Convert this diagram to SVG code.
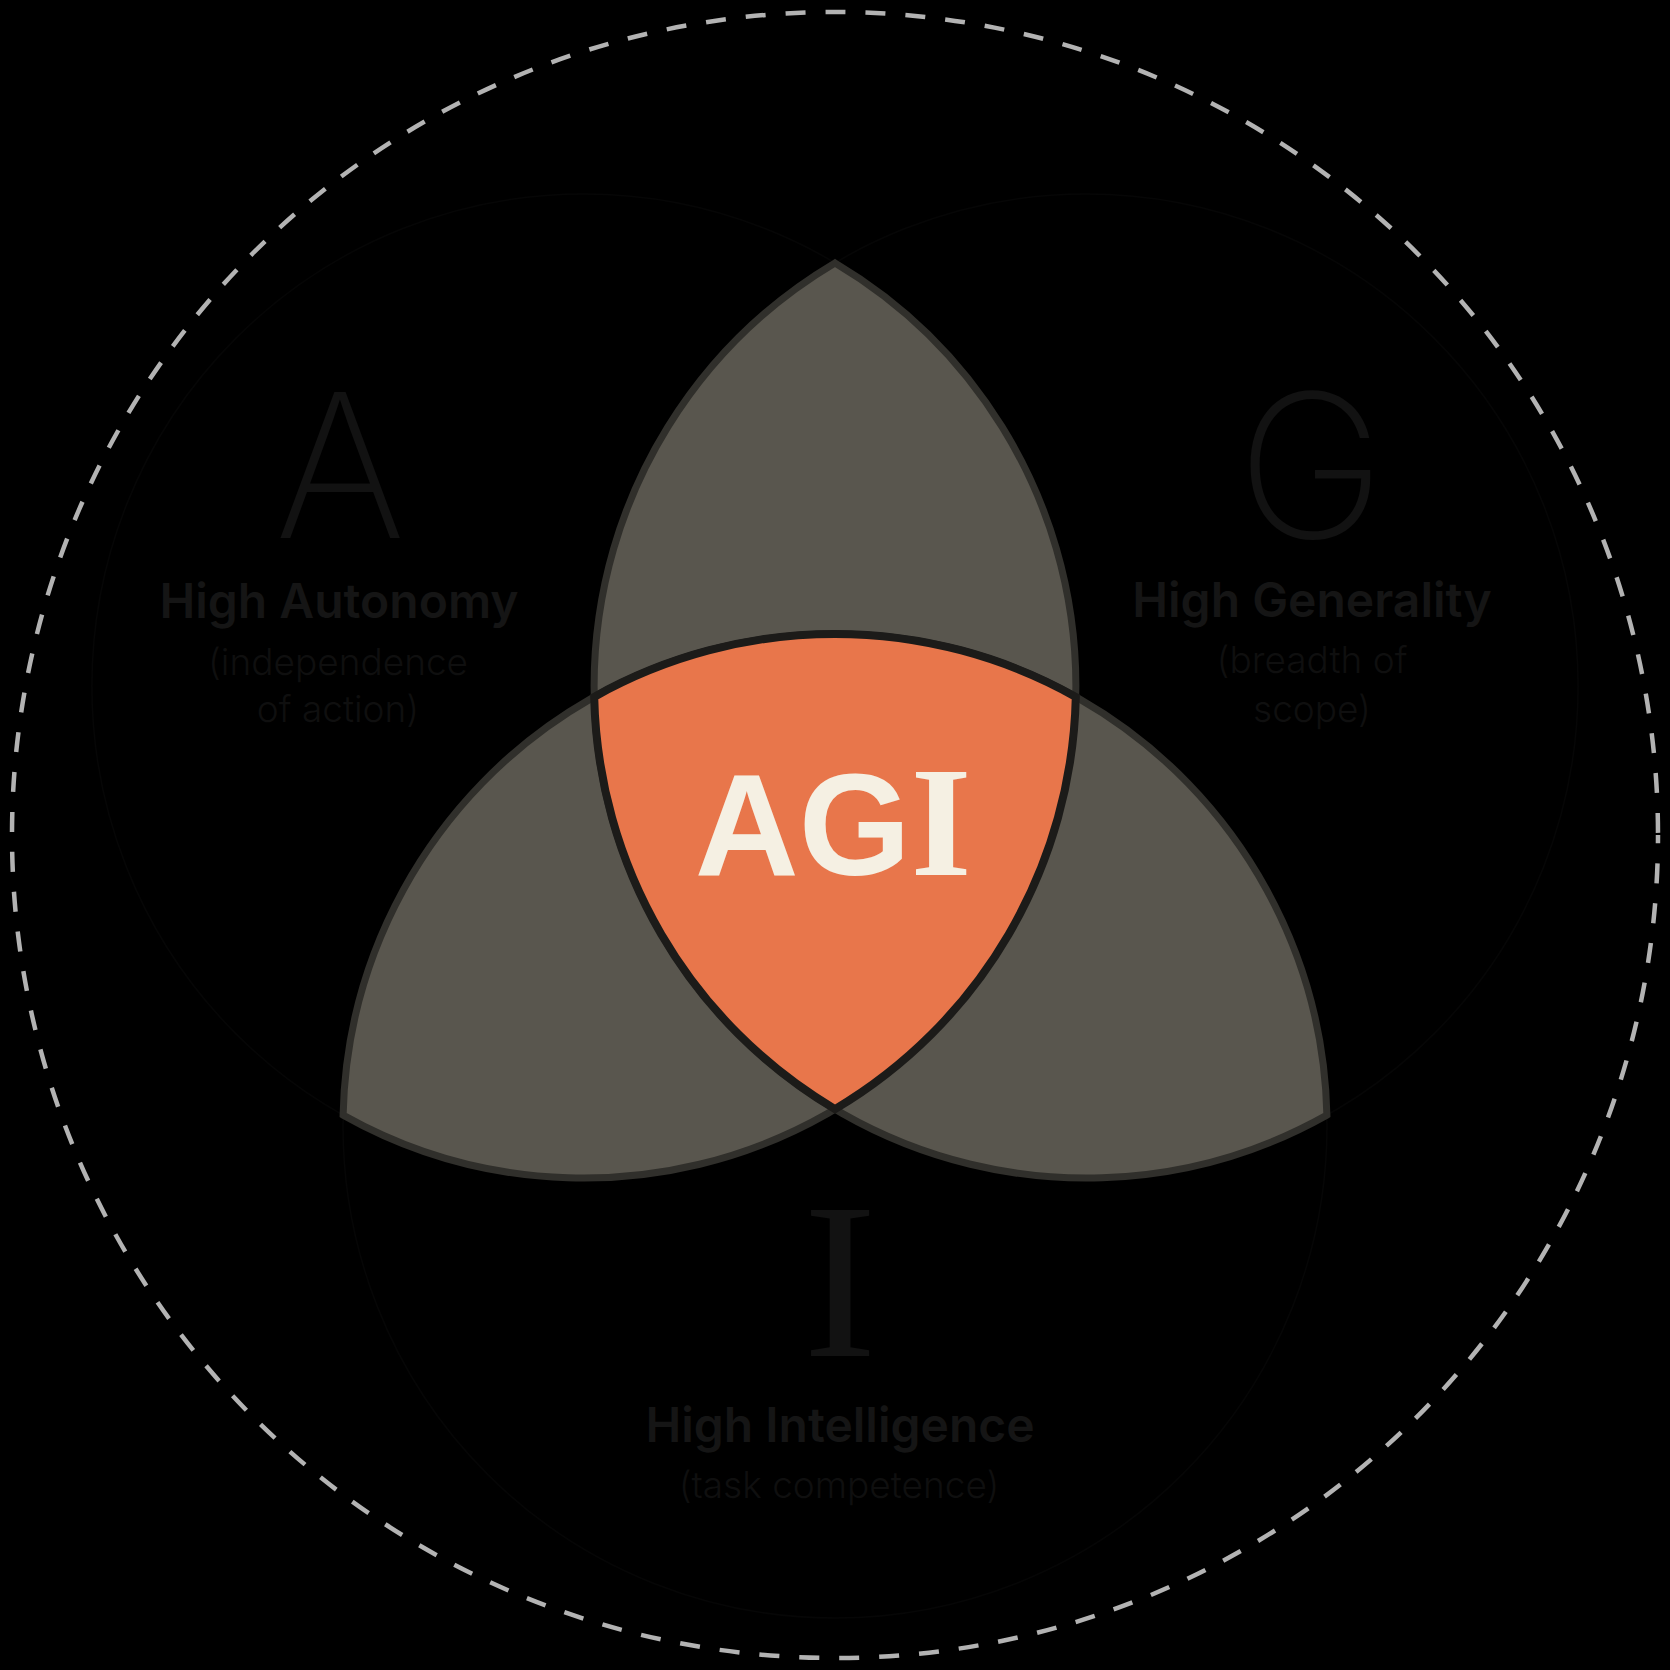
<svg xmlns="http://www.w3.org/2000/svg" width="1670" height="1670" viewBox="0 0 1670 1670">
  <defs>
    <style>
      .bg { fill: #000000; }
      .outer { fill: none; stroke: #b3b3b3; stroke-width: 4.5; stroke-dasharray: 20 20; stroke-dashoffset: 11.6; }
      .ghost { fill: none; stroke: #060606; stroke-width: 1.5; }
      .lens { fill: #59564e; stroke: #302f2b; stroke-width: 7; stroke-linejoin: miter; }
      .core { fill: #e8764b; stroke: #1c1b19; stroke-width: 8; stroke-linejoin: miter; }
      .big { font-family: Inter, "Liberation Sans", sans-serif; font-weight: 250; font-size: 200px; fill: #121212; text-anchor: middle; }
      .bigserif { font-family: "Liberation Serif", serif; font-weight: 400; font-size: 222px; fill: #121212; text-anchor: middle; }
      .head { font-family: Inter, "Liberation Sans", sans-serif; font-weight: 600; font-size: 48px; fill: #151515; text-anchor: middle; }
      .sub { font-family: Inter, "Liberation Sans", sans-serif; font-weight: 300; font-size: 37px; fill: #0f0f0f; text-anchor: middle; }
      .agi { font-family: "Liberation Sans", Arial, sans-serif; font-weight: 700; font-size: 144px; fill: #f5f0e3; text-anchor: middle; }
    </style>
  </defs>

  <rect class="bg" x="0" y="0" width="1670" height="1670"/>

  <g id="frame">
    <circle class="outer" cx="835" cy="835" r="823"/>
  </g>

  <g id="circles">
    <circle class="ghost" cx="583.9" cy="686" r="492"/>
    <circle class="ghost" cx="1086.1" cy="686" r="492"/>
    <circle class="ghost" cx="835" cy="1126" r="492"/>
  </g>

  <g id="lens-ag">
    <path class="lens" d="M835 262.9 A492 492 0 0 1 835 1109.1 A492 492 0 0 1 835 262.9 Z"/>
  </g>
  <g id="lens-ai">
    <path class="lens" d="M343.1 1115.1 A492 492 0 0 1 1075.8 696.9 A492 492 0 0 1 343.1 1115.1 Z"/>
  </g>
  <g id="lens-gi">
    <path class="lens" d="M594.2 696.9 A492 492 0 0 1 1326.9 1115.1 A492 492 0 0 1 594.2 696.9 Z"/>
  </g>

  <g id="agi">
    <path class="core" d="M594.2 696.9 A492 492 0 0 1 1075.8 696.9 A492 492 0 0 1 835 1109.1 A492 492 0 0 1 594.2 696.9 Z"/>
    <text class="agi" x="833" y="875">AG<tspan font-family="Liberation Serif, serif" font-size="156">I</tspan></text>
  </g>

  <g id="autonomy">
    <text class="big" x="340" y="538">A</text>
    <text class="head" x="339" y="618">High Autonomy</text>
    <text class="sub" x="338" y="675">(independence</text>
    <text class="sub" x="338" y="722">of action)</text>
  </g>

  <g id="generality">
    <text class="big" x="1311" y="538">G</text>
    <text class="head" x="1312" y="617">High Generality</text>
    <text class="sub" x="1312" y="673">(breadth of</text>
    <text class="sub" x="1312" y="722">scope)</text>
  </g>

  <g id="intelligence">
    <text class="bigserif" x="840" y="1356">I</text>
    <text class="head" x="840" y="1442">High Intelligence</text>
    <text class="sub" x="839" y="1498">(task competence)</text>
  </g>

  <g id="connectors"></g>
</svg>
